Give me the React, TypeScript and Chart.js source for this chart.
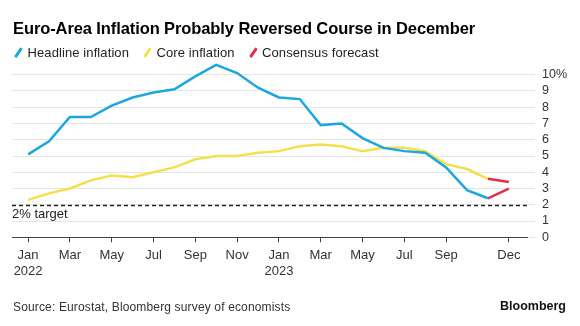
import React, { useEffect, useRef } from "react";
import { Chart, registerables } from "chart.js";

Chart.register(...registerables);

const months: number[] = [0,1,2,3,4,5,6,7,8,9,10,11,12,13,14,15,16,17,18,19,20,21,22];
const headline: number[] = [5.1,5.9,7.4,7.4,8.1,8.6,8.9,9.1,9.9,10.6,10.1,9.2,8.6,8.5,6.9,7.0,6.1,5.5,5.3,5.2,4.3,2.9,2.4];
const core: number[] = [2.3,2.7,3.0,3.5,3.8,3.7,4.0,4.3,4.8,5.0,5.0,5.2,5.3,5.6,5.7,5.6,5.3,5.5,5.5,5.3,4.5,4.2,3.6];
const forecastMonth = 23;
const headlineForecast = 3.0;
const coreForecast = 3.4;
const targetValue = 2;
const xTickValues: number[] = [0,2,4,6,8,10,12,14,16,18,20,23];
const xTickLabels: (string | string[])[] = [["Jan","2022"],"Mar","May","Jul","Sep","Nov",["Jan","2023"],"Mar","May","Jul","Sep","Dec"];
const yTicks: number[] = [0,1,2,3,4,5,6,7,8,9,10];

const BLUE = "#1ba7e0";
const YELLOW = "#f4e04d";
const RED = "#de3146";
const FONT = "'Liberation Sans', Arial, sans-serif";

const targetPlugin = {
  id: "targetLine",
  beforeDatasetsDraw(chart: any) {
    const { ctx, chartArea, scales } = chart;
    const y = Math.round(scales.y.getPixelForValue(targetValue)) + 0.5;
    ctx.save();
    ctx.strokeStyle = "#222";
    ctx.lineWidth = 1.5;
    ctx.setLineDash([4, 3]);
    ctx.beginPath();
    ctx.moveTo(chartArea.left, y);
    ctx.lineTo(chartArea.right, y);
    ctx.stroke();
    ctx.restore();
  },
};

export default function App() {
  const ref = useRef<HTMLCanvasElement | null>(null);
  useEffect(() => {
    document.body.style.margin = "0";
    const ctx = ref.current!;
    const last = months.length - 1;
    const common = { borderWidth: 2.5, pointRadius: 0, tension: 0, clip: false as any };
    const chart = new Chart(ctx, {
      type: "line",
      data: {
        datasets: [
          {
            ...common,
            data: months.map((m, i) => ({ x: m, y: headline[i] })),
            borderColor: BLUE,
          },
          {
            ...common,
            data: months.map((m, i) => ({ x: m, y: core[i] })),
            borderColor: YELLOW,
          },
          {
            ...common,
            data: [{ x: months[last], y: headline[last] }, { x: forecastMonth, y: headlineForecast }],
            borderColor: RED,
          },
          {
            ...common,
            data: [{ x: months[last], y: core[last] }, { x: forecastMonth, y: coreForecast }],
            borderColor: RED,
          },
        ],
      },
      options: {
        animation: false,
        responsive: false,
        maintainAspectRatio: false,
        layout: { padding: { left: 12, top: 74.7, right: 0, bottom: 326 - 237.3 - 44 } },
        plugins: { legend: { display: false }, tooltip: { enabled: false } },
        scales: {
          x: {
            type: "linear",
            min: -0.77,
            max: 23.87,
            afterBuildTicks: (s: any) => {
              s.ticks = xTickValues.map((v) => ({ value: v }));
            },
            afterFit: (s: any) => {
              s.height = 44;
            },
            ticks: {
              autoSkip: false,
              maxRotation: 0,
              padding: 5,
              color: "#333",
              font: { family: FONT, size: 13, lineHeight: 1.25 },
              callback: (v: any) => {
                const i = xTickValues.indexOf(Number(v));
                return i >= 0 ? xTickLabels[i] : "";
              },
            },
            grid: { drawOnChartArea: false, tickLength: 5, color: "#444", lineWidth: 1 },
            border: { display: true, color: "#444", width: 1 },
          },
          y: {
            position: "right",
            min: 0,
            max: 10,
            afterBuildTicks: (s: any) => {
              s.ticks = yTicks.map((v) => ({ value: v }));
            },
            afterFit: (s: any) => {
              s.width = 580 - 527;
            },
            ticks: {
              autoSkip: false,
              padding: 7,
              color: "#333",
              font: { family: FONT, size: 12.5 },
              callback: (v: any) => (Number(v) === 10 ? "10%" : String(v)),
            },
            grid: { color: "#e6e6e6", lineWidth: 1, tickLength: 8 },
            border: { display: false },
          },
        },
      },
      plugins: [targetPlugin],
    });
    return () => chart.destroy();
  }, []);

  const slash = (color: string) => (
    <span
      style={{
        display: "inline-block",
        width: 2.5,
        height: 11,
        background: color,
        transform: "rotate(35deg)",
        marginLeft: 3,
        marginRight: 8,
        verticalAlign: "-1px",
        borderRadius: 1,
      }}
    />
  );

  return (
    <div style={{ position: "relative", width: 580, height: 326, background: "#fff", fontFamily: FONT, overflow: "hidden" }}>
      <canvas ref={ref} width={580} height={326} style={{ position: "absolute", left: 0, top: 0, width: 580, height: 326 }} />
      <div style={{ position: "absolute", left: 13, top: 20, fontSize: 16.5, lineHeight: "16px", fontWeight: 700, color: "#000", letterSpacing: -0.1, whiteSpace: "nowrap" }}>
        Euro-Area Inflation Probably Reversed Course in December
      </div>
      <div style={{ position: "absolute", left: 14, top: 47, fontSize: 13, lineHeight: "12px", color: "#222", whiteSpace: "nowrap", letterSpacing: 0.1 }}>
        {slash(BLUE)}<span style={{ marginRight: 14 }}>Headline inflation</span>
        {slash(YELLOW)}<span style={{ marginRight: 14 }}>Core inflation</span>
        {slash(RED)}<span>Consensus forecast</span>
      </div>
      <div style={{ position: "absolute", left: 12, top: 207, fontSize: 13, lineHeight: "13px", color: "#222", whiteSpace: "nowrap" }}>
        2% target
      </div>
      <div style={{ position: "absolute", left: 13, top: 301, fontSize: 12, lineHeight: "12px", color: "#333", whiteSpace: "nowrap", letterSpacing: 0.15 }}>
        Source: Eurostat, Bloomberg survey of economists
      </div>
      <div style={{ position: "absolute", right: 14, top: 300, fontSize: 12.5, lineHeight: "12px", fontWeight: 700, color: "#111", whiteSpace: "nowrap" }}>
        Bloomberg
      </div>
    </div>
  );
}
